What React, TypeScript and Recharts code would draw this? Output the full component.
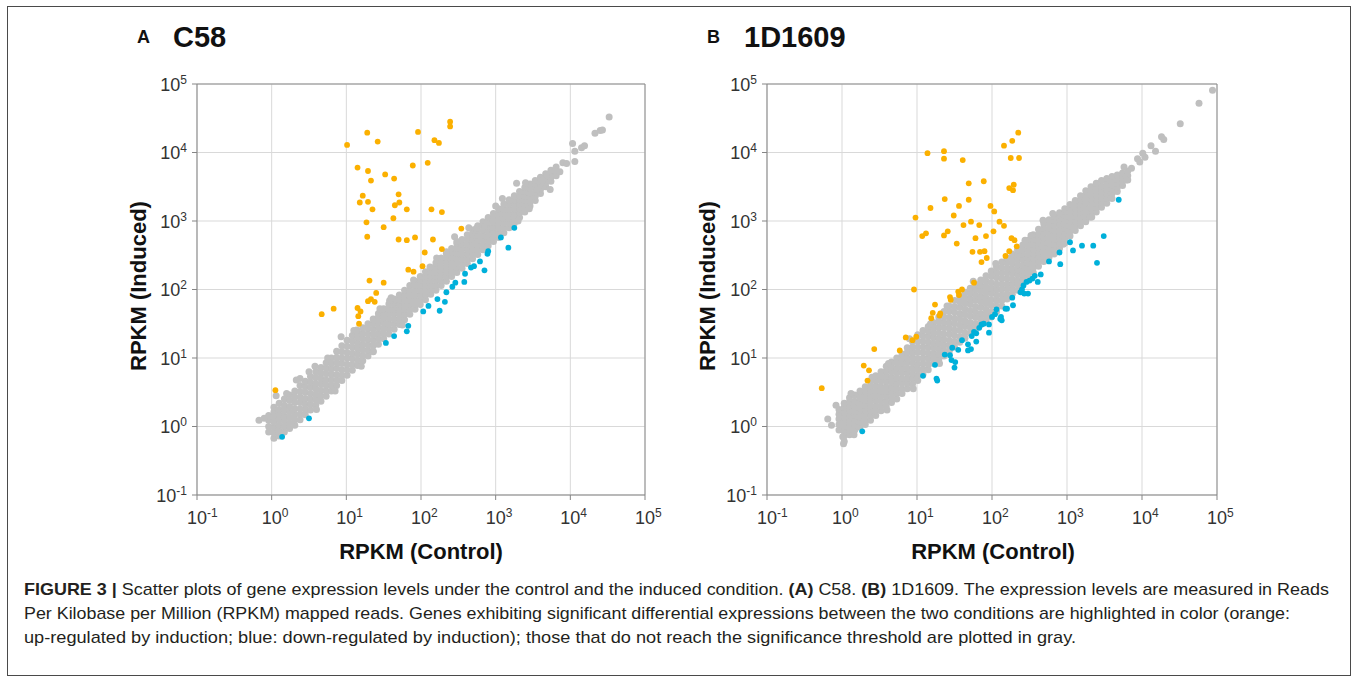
import React from 'react';
import { ScatterChart, Scatter, XAxis, YAxis, CartesianGrid, ReferenceLine } from 'recharts';

const FONT = "'Liberation Sans', Arial, Helvetica, sans-serif";

// axes are log10 values; ticks are decades 10^-1 .. 10^5
const decades = [-1, 0, 1, 2, 3, 4, 5];

// all point values below are log10(RPKM) in hundredths of a decade
// gray cloud, panel A: [log control, [log induced ...]]
const grayCoreA: [number, number[]][] = [
  [-4, [-8, 0, 9, 16]],
  [3, [-17, -9, -1, 7, 14, 21, 28]],
  [10, [-14, -6, 2, 10, 17, 25, 34]],
  [17, [-8, 0, 8, 15, 23, 31, 40]],
  [24, [-3, 5, 13, 21, 29, 38, 46]],
  [31, [2, 10, 18, 26, 35, 43, 52]],
  [38, [10, 18, 26, 35, 43, 51, 60]],
  [45, [17, 25, 33, 41, 50, 58, 66]],
  [52, [24, 32, 40, 48, 57, 65, 73]],
  [59, [31, 39, 47, 55, 63, 72, 80]],
  [66, [37, 45, 53, 62, 70, 78, 86]],
  [73, [44, 52, 60, 68, 77, 85, 93]],
  [80, [52, 60, 68, 76, 84, 92, 100]],
  [87, [60, 68, 76, 85, 93, 101, 110]],
  [94, [67, 75, 83, 92, 100, 109, 118]],
  [101, [75, 83, 91, 100, 108, 117, 126]],
  [108, [82, 90, 99, 107, 116, 125, 133]],
  [115, [89, 97, 106, 114, 122, 130, 138]],
  [122, [96, 104, 112, 120, 128, 136, 144]],
  [129, [103, 111, 119, 127, 135, 143, 150]],
  [136, [110, 118, 126, 134, 142, 150, 157]],
  [143, [120, 128, 136, 144, 152, 160, 165]],
  [150, [128, 136, 143, 151, 158, 165, 172]],
  [157, [135, 143, 150, 158, 165, 172, 179]],
  [164, [142, 150, 157, 165, 172, 179, 186]],
  [171, [149, 157, 164, 171, 178, 185, 192]],
  [178, [156, 164, 171, 178, 185, 192, 199]],
  [185, [164, 171, 178, 185, 192, 199, 206]],
  [192, [171, 178, 185, 192, 199, 206, 212]],
  [199, [178, 185, 192, 199, 206, 213, 219]],
  [206, [185, 192, 199, 206, 213, 220, 226]],
  [213, [193, 200, 206, 213, 220, 226, 232]],
  [220, [199, 206, 213, 220, 226, 233, 239]],
  [227, [206, 213, 220, 227, 233, 240, 246]],
  [234, [212, 219, 226, 233, 240, 247, 253]],
  [241, [219, 226, 233, 240, 247, 254, 260]],
  [248, [225, 232, 239, 246, 253, 260, 267]],
  [255, [231, 238, 245, 252, 259, 266, 273]],
  [262, [238, 245, 252, 259, 266, 273, 280]],
  [269, [245, 252, 259, 266, 273, 280, 287]],
  [276, [251, 258, 265, 272, 279, 286, 293]],
  [283, [258, 265, 272, 279, 286, 293, 299]],
  [290, [264, 271, 278, 285, 292, 299, 305]],
  [297, [270, 277, 284, 291, 298, 305, 311]],
  [304, [276, 283, 290, 297, 304, 311, 318]],
  [311, [283, 290, 297, 304, 311, 318, 325]],
  [318, [290, 297, 304, 311, 318, 325, 331]],
  [325, [297, 304, 311, 318, 324, 331, 337]],
  [332, [305, 312, 318, 324, 331, 337, 343]],
  [339, [313, 319, 325, 331, 337, 343, 349]],
  [346, [322, 328, 334, 340, 348, 354]],
  [353, [330, 336, 342, 348, 354, 359]],
  [360, [340, 346, 352, 358, 364]],
  [367, [350, 356, 362, 369]],
  [374, [358, 364, 370, 374]],
  [381, [366, 372, 379]],
];

const grayEdgeA: [number, number][] = [
  [-17, 9], [-10, 12], [6, 45], [20, 48], [33, 68], [38, 70], [50, 80], [58, 88], [75, 100],
  [93, 131], [110, 140], [114, 141], [136, 109], [145, 172], [158, 184], [160, 188], [190, 214],
  [212, 233], [221, 246], [234, 255], [245, 277], [248, 270], [264, 290], [274, 289], [285, 292],
  [300, 322], [309, 333], [328, 355], [340, 356], [355, 346], [373, 346], [363, 360], [368, 367],
  [380, 374], [386, 372], [390, 385], [395, 384], [406, 387], [403, 413], [406, 402], [415, 407],
  [419, 410], [433, 428], [440, 432], [443, 433], [452, 452], [60, 25], [85, 52], [120, 88],
  [175, 148], [330, 300], [345, 318],
];

const upA: [number, number][] = [
  [239, 445], [239, 438], [128, 429], [196, 430], [142, 416], [101, 411], [218, 418], [224, 414],
  [189, 381], [209, 385], [115, 378], [129, 373], [133, 359], [152, 368], [164, 362], [122, 337],
  [118, 327], [129, 328], [135, 317], [170, 339], [171, 327], [165, 323], [181, 317], [214, 317],
  [228, 313], [127, 298], [163, 304], [150, 291], [128, 277], [170, 273], [181, 272], [192, 276],
  [216, 273], [254, 289], [205, 254], [228, 259], [183, 229], [190, 226], [202, 234], [131, 213],
  [150, 210], [140, 195], [129, 183], [133, 186], [138, 182], [115, 173], [119, 168], [83, 172],
  [67, 164], [116, 161], [117, 150], [5, 53],
];

const downA: [number, number][] = [
  [14, -15], [50, 12], [153, 122], [164, 132], [181, 139], [183, 147], [203, 168], [210, 176],
  [222, 186], [225, 169], [232, 182], [234, 196], [242, 204], [246, 210], [258, 211], [259, 223],
  [267, 232], [271, 234], [279, 241], [285, 228], [289, 252], [290, 256], [307, 276], [317, 261],
  [325, 290],
];

// gray cloud, panel B
const grayCoreB: [number, number[]][] = [
  [-4, [-5, 3, 11, 18, 25]],
  [3, [-22, -14, -7, 0, 7, 14, 21, 28, 34]],
  [10, [-12, -5, 2, 9, 16, 23, 30, 36, 42]],
  [17, [-5, 2, 9, 16, 23, 30, 37, 46]],
  [24, [-1, 6, 13, 20, 27, 34, 41, 47, 52]],
  [31, [3, 10, 17, 24, 31, 38, 45, 52, 58]],
  [38, [9, 16, 23, 30, 37, 44, 52, 59, 66]],
  [45, [16, 23, 30, 38, 45, 52, 59, 67, 74]],
  [52, [23, 30, 37, 44, 51, 58, 66, 73, 80]],
  [59, [29, 36, 44, 51, 58, 66, 73, 81, 88]],
  [66, [35, 42, 50, 57, 65, 72, 80, 87, 94]],
  [73, [40, 48, 55, 63, 70, 78, 85, 93, 100]],
  [80, [48, 55, 63, 70, 78, 85, 92, 99, 106]],
  [87, [55, 63, 70, 78, 85, 93, 100, 108, 115]],
  [94, [62, 70, 77, 85, 93, 101, 108, 116, 124]],
  [101, [67, 75, 83, 91, 99, 108, 116, 125, 134]],
  [108, [76, 84, 92, 100, 108, 116, 124, 132, 140]],
  [115, [83, 91, 99, 107, 115, 123, 131, 139, 146]],
  [122, [92, 100, 107, 115, 122, 130, 137, 145, 152]],
  [129, [97, 105, 113, 121, 129, 137, 145, 153, 160]],
  [136, [103, 111, 119, 127, 135, 144, 152, 160, 168]],
  [143, [110, 118, 126, 135, 143, 151, 159, 168, 176]],
  [150, [116, 124, 133, 141, 150, 158, 167, 175, 184]],
  [157, [123, 131, 140, 148, 157, 165, 174, 182, 190]],
  [164, [129, 137, 146, 154, 163, 171, 180, 188, 196]],
  [171, [136, 144, 152, 161, 169, 178, 186, 194, 202]],
  [178, [142, 150, 159, 167, 175, 184, 192, 200, 208]],
  [185, [149, 157, 165, 174, 182, 190, 198, 206, 214]],
  [192, [155, 163, 171, 180, 188, 196, 204, 212, 220]],
  [199, [160, 168, 177, 185, 194, 202, 210, 219, 227]],
  [206, [168, 176, 184, 192, 200, 208, 217, 225, 233]],
  [213, [176, 184, 192, 200, 208, 216, 224, 232, 240]],
  [220, [186, 193, 201, 208, 216, 224, 231, 239, 246]],
  [227, [193, 200, 208, 215, 223, 230, 238, 245, 252]],
  [234, [199, 207, 214, 222, 229, 236, 244, 251, 258]],
  [241, [208, 215, 222, 229, 236, 244, 251, 258, 265]],
  [248, [217, 224, 231, 238, 245, 251, 258, 265, 272]],
  [255, [225, 232, 239, 246, 252, 259, 266, 273, 280]],
  [262, [234, 241, 248, 254, 261, 268, 275, 281, 288]],
  [269, [241, 248, 255, 262, 269, 275, 282, 289, 296]],
  [276, [247, 254, 261, 268, 275, 282, 289, 296, 302]],
  [283, [252, 259, 266, 273, 280, 287, 294, 301, 307]],
  [290, [260, 267, 274, 281, 288, 295, 302, 308, 312]],
  [297, [268, 275, 282, 289, 296, 303, 309, 314, 318]],
  [304, [278, 285, 292, 299, 306, 312, 318, 324]],
  [311, [286, 293, 300, 307, 313, 319, 325, 330]],
  [318, [293, 300, 307, 313, 319, 325, 331, 337]],
  [325, [299, 306, 313, 319, 326, 332, 338, 344]],
  [332, [306, 313, 319, 326, 332, 338, 344, 350]],
  [339, [313, 320, 326, 332, 338, 344, 350, 355]],
  [346, [320, 327, 333, 339, 345, 351, 359]],
  [353, [326, 333, 339, 345, 351, 357, 362]],
  [360, [333, 340, 346, 352, 358, 365]],
  [367, [343, 349, 355, 361, 367]],
  [374, [352, 358, 364, 370]],
  [381, [360, 366, 373]],
];

const grayEdgeB: [number, number][] = [
  [-19, 11], [-14, 2], [2, -25], [1, -15], [16, -12], [-8, 31], [12, 48], [40, 72], [62, 92],
  [90, 128], [118, 150], [140, 176], [175, 212], [205, 238], [60, 24], [95, 55], [130, 92],
  [244, 272], [252, 279], [268, 301], [281, 311], [295, 266], [308, 323], [330, 306], [333, 306],
  [379, 360], [376, 379], [386, 377], [394, 391], [397, 386], [404, 393], [401, 399], [412, 410],
  [418, 402], [426, 423], [429, 419], [451, 442], [476, 472], [494, 491],
];

const upB: [number, number][] = [
  [235, 429], [227, 417], [216, 410], [225, 392], [236, 392], [114, 399], [136, 402], [136, 391],
  [161, 389], [169, 355], [189, 358], [223, 348], [229, 353], [228, 345], [118, 319], [137, 332],
  [169, 331], [156, 322], [198, 322], [203, 314], [98, 305], [149, 308], [162, 294], [172, 299],
  [183, 294], [210, 299], [216, 293], [107, 278], [112, 282], [136, 279], [141, 285], [178, 275],
  [192, 278], [202, 285], [153, 267], [226, 275], [230, 272], [233, 263], [174, 255], [184, 255],
  [190, 256], [223, 256], [218, 249], [186, 240], [193, 246], [96, 200], [176, 210], [155, 197],
  [160, 200], [156, 192], [144, 189], [145, 185], [124, 178], [121, 166], [131, 165], [130, 162],
  [119, 158], [-27, 56], [29, 89], [36, 82], [34, 67], [43, 113], [77, 111], [85, 130], [94, 126],
  [99, 131],
];

const downB: [number, number][] = [
  [27, -7], [108, 74], [126, 70], [127, 67], [124, 90], [137, 105], [144, 104], [146, 97], [151, 94],
  [150, 86], [147, 115], [155, 112], [168, 111], [172, 113], [168, 120], [160, 126], [173, 132],
  [176, 138], [179, 124], [183, 144], [186, 149], [179, 136], [196, 137], [196, 149], [200, 160],
  [204, 164], [211, 157], [220, 172], [189, 150], [369, 331], [349, 278], [340, 239], [335, 264],
  [320, 264], [308, 257], [304, 269], [290, 254], [291, 237], [276, 241], [265, 222], [261, 211],
  [257, 220], [254, 216], [250, 213], [246, 211], [242, 206], [248, 194], [243, 194], [240, 200],
  [238, 196], [227, 188], [228, 177], [218, 172], [206, 171], [212, 160], [213, 155],
];

const captionLines = [
  'Scatter plots of gene expression levels under the control and the induced condition. ',
  'Per Kilobase per Million (RPKM) mapped reads. Genes exhibiting significant differential expressions between the two conditions are highlighted in color (orange:',
  'up-regulated by induction; blue: down-regulated by induction); those that do not reach the significance threshold are plotted in gray.',
];

const fromCols = (cols: [number, number[]][]) =>
  cols.flatMap(([x, ys]) => ys.map((y) => ({ x: x / 100, y: y / 100 })));
const fromPairs = (pairs: [number, number][]) => pairs.map(([x, y]) => ({ x: x / 100, y: y / 100 }));

const dot = (color: string, r: number) => (props: any) => {
  if (props.cx == null || props.cy == null) return <g />;
  return <circle cx={props.cx} cy={props.cy} r={r} fill={color} />;
};

function XTick(props: any) {
  const { x, y, payload } = props;
  return (
    <text x={x - 10} y={y + 24} fill="#333" fontSize={18} fontFamily={FONT}>
      10
      <tspan dy={-7} fontSize={12}>{payload.value}</tspan>
    </text>
  );
}

function YTick(props: any) {
  const { x, y, payload } = props;
  return (
    <text x={x - 5} y={y + 6.5} textAnchor="end" fill="#333" fontSize={18} fontFamily={FONT}>
      10
      <tspan dy={-7} fontSize={12}>{payload.value}</tspan>
    </text>
  );
}

function Panel({ left, width, axisW, rightM, core, edge, up, down }: any) {
  const gray = [...fromCols(core), ...fromPairs(edge)];
  return (
    <div style={{ position: 'absolute', left, top: 0 }}>
      <ScatterChart width={width} height={570} margin={{ top: 84, right: rightM, bottom: 0, left: 0 }}>
        <CartesianGrid stroke="#d9d9d9" />
        <XAxis
          type="number"
          dataKey="x"
          domain={[-1, 5]}
          ticks={decades}
          interval={0}
          tickSize={5}
          tickMargin={0}
          height={75}
          allowDataOverflow
          axisLine={{ stroke: '#858585' }}
          tickLine={{ stroke: '#858585' }}
          tick={<XTick />}
        />
        <YAxis
          type="number"
          dataKey="y"
          domain={[-1, 5]}
          ticks={decades}
          interval={0}
          tickSize={5}
          tickMargin={0}
          width={axisW}
          allowDataOverflow
          axisLine={{ stroke: '#858585' }}
          tickLine={{ stroke: '#858585' }}
          tick={<YTick />}
        />
        <ReferenceLine y={5} stroke="#8c8c8c" />
        <ReferenceLine x={5} stroke="#8c8c8c" />
        <Scatter data={gray} shape={dot('#bfbfbf', 3.5)} isAnimationActive={false} />
        <Scatter data={fromPairs(up)} shape={dot('#fbb000', 2.9)} isAnimationActive={false} />
        <Scatter data={fromPairs(down)} shape={dot('#00b0da', 2.9)} isAnimationActive={false} />
      </ScatterChart>
    </div>
  );
}

export default function App() {
  return (
    <div style={{ position: 'absolute', left: 0, top: 0, width: 1357, height: 681, background: '#fff' }}>
      <Panel left={0} width={680} axisW={197} rightM={35} core={grayCoreA} edge={grayEdgeA} up={upA} down={downA} />
      <Panel left={680} width={677} axisW={87} rightM={140} core={grayCoreB} edge={grayEdgeB} up={upB} down={downB} />
      <svg
        width={1357}
        height={681}
        style={{ position: 'absolute', left: 0, top: 0, pointerEvents: 'none' }}
        fontFamily={FONT}
      >
        <rect x={7.5} y={6.5} width={1343} height={669} fill="none" stroke="#4a4a4a" strokeWidth={1} />

        <text x={137} y={43} fontSize={18} fontWeight="bold" fill="#111">A</text>
        <text x={173} y={47} fontSize={29} fontWeight="bold" fill="#111">C58</text>
        <text x={707} y={43} fontSize={18} fontWeight="bold" fill="#111">B</text>
        <text x={744} y={47} fontSize={29} fontWeight="bold" fill="#111">1D1609</text>

        <text x={146} y={286} transform="rotate(-90 146 286)" textAnchor="middle" fontSize={22} fontWeight="bold" fill="#111">
          RPKM (Induced)
        </text>
        <text x={715} y={286} transform="rotate(-90 715 286)" textAnchor="middle" fontSize={22} fontWeight="bold" fill="#111">
          RPKM (Induced)
        </text>
        <text x={421} y={559} textAnchor="middle" fontSize={22} fontWeight="bold" fill="#111">RPKM (Control)</text>
        <text x={993} y={559} textAnchor="middle" fontSize={22} fontWeight="bold" fill="#111">RPKM (Control)</text>

        <text x={24} y={595} fontSize={17} fill="#231f20" textLength={1305} lengthAdjust="spacingAndGlyphs">
          <tspan fontWeight="bold">FIGURE 3 | </tspan>
          {captionLines[0]}
          <tspan fontWeight="bold">(A)</tspan> C58. <tspan fontWeight="bold">(B)</tspan> 1D1609. The expression levels are measured in Reads
        </text>
        <text x={24} y={619} fontSize={17} fill="#231f20" textLength={1266} lengthAdjust="spacingAndGlyphs">
          {captionLines[1]}
        </text>
        <text x={24} y={643} fontSize={17} fill="#231f20" textLength={1052} lengthAdjust="spacingAndGlyphs">
          {captionLines[2]}
        </text>
      </svg>
    </div>
  );
}
